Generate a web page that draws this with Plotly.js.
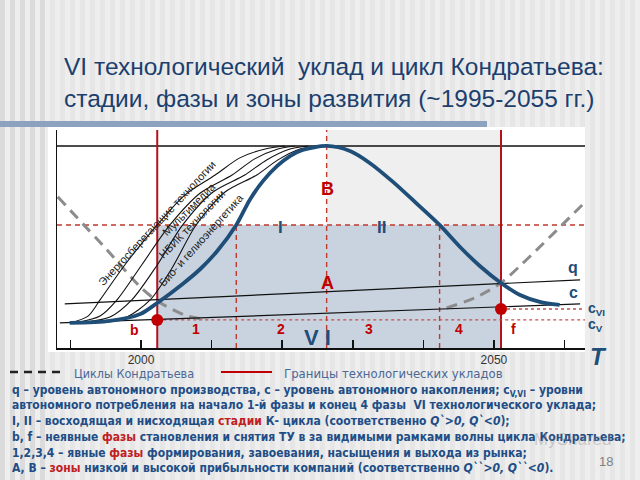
<!DOCTYPE html>
<html>
<head>
<meta charset="utf-8">
<script src="https://cdn.plot.ly/plotly-3.0.1.min.js"></script>
<style>html,body{margin:0;padding:0;background:#eeeeee;}#chart{width:640px;height:480px;}</style>
</head>
<body>
<div id="chart"></div>
<script>
// ---- data (years / relative level, 0 = axis, 100 = saturation line) ----
const mainYears = [1989.9, 1995.6, 1999.9, 2002.3, 2005.9, 2008.4, 2010.8, 2013.5, 2015.4, 2017.3, 2019.3, 2021.1, 2022.9, 2026.3, 2029.6, 2032.4, 2035.7, 2038.8, 2042.3, 2045.2, 2048.0, 2051.0, 2053.7, 2056.5, 2059.3];
const mainLevel = [12.4, 13.4, 16.8, 22.3, 31.7, 39.1, 48.0, 60.9, 73.3, 82.7, 90.1, 95.0, 98.0, 100, 97.5, 91.6, 82.2, 72.3, 60.9, 50.0, 40.6, 32.2, 26.2, 22.8, 21.3];

const techNames = ["Энергосберегающие технологии", "Мультимедиа", "НБИК технологии", "Био- и гелиоэнергетика"];
const tech1Years = [1989.9, 1992.5, 1994.2, 1997.7, 2002.3, 2006.2, 2010.5, 2014.0, 2017.6, 2020.4];
const tech1Level = [12.4, 15.8, 23.8, 41.1, 60.9, 75.7, 85.6, 94.1, 98.5, 100];
const tech2Years = [1990.7, 1994.2, 1996.6, 2000.1, 2004.1, 2008.4, 2012.9, 2016.1, 2019.4, 2021.8];
const tech2Level = [12.4, 15.8, 23.8, 41.1, 60.9, 76.7, 85.6, 93.6, 98.5, 100];
const tech3Years = [1991.1, 1995.6, 1998.7, 2002.3, 2005.9, 2010.2, 2014.7, 2017.8, 2021.1, 2023.7];
const tech3Level = [12.4, 15.3, 23.8, 41.1, 60.9, 77.2, 85.6, 93.1, 98.5, 100];
const tech4Years = [1991.6, 1997.7, 2001.3, 2004.4, 2007.8, 2011.9, 2016.4, 2019.4, 2022.5, 2025.1];
const tech4Level = [12.4, 14.9, 23.8, 39.6, 60.9, 77.2, 85.6, 93.1, 98.5, 100];

const kondLeftYears = [1988.2, 1995.2, 1999.9, 2002.3, 2006.2, 2009.3];
const kondLeftLevel = [74.8, 48.5, 30.2, 23.3, 16.3, 13.9];
const kondRightYears = [2043.3, 2047.3, 2051.0, 2062.5];
const kondRightLevel = [19.8, 24.8, 32.2, 70.8];

const qYears = [1989.2, 2062.2];
const qLevel = [21.8, 33.7];
const cYears = [1988.5, 2062.2];
const cLevel = [12.4, 21.8];

const cVYears = [2002.3, 2062.9];
const cVLevel = [13.9, 13.9];
const cVIYears = [2051.0, 2062.9];
const cVILevel = [19.3, 19.3];

const dotYears = [2002.3, 2051.0];
const dotLevel = [13.9, 19.3];

const boundaryYears = [2002.3, 2051.0];   // границы технологических укладов
const phaseYears = [2013.5, 2042.3];      // границы фаз 1|2 и 3|4
const peakYear = 2026.3;
const stageLevel = 60.9;
const topLevel = 100;

const tickYears = [1990, 2000, 2010, 2020, 2030, 2040, 2050, 2060];
const tickLabels = ["", "2000", "", "", "", "", "2050", ""];

// ---- geometry helpers ----
const PL = 57, PR = 585, PT = 130, PB = 348;
const X0 = 1988.1, X1 = 2062.9, Y0 = 0, Y1 = 107.9;
const px = x => (x - PL) / (PR - PL);
const py = y => (PB - y) / (PB - PT);

const NAVY = '#1f4e79', RED = '#c00000', TXT = '#214d86';

const traces = [];
function line(x, y, lineStyle) {
  traces.push({type: 'scatter', mode: 'lines', x: x, y: y, line: lineStyle, hoverinfo: 'skip', showlegend: false});
}
line(cVYears, cVLevel, {color: '#c0504d', width: 1.4, dash: 'dot'});
line(cVIYears, cVILevel, {color: '#c0504d', width: 1.4, dash: 'dot'});
line(kondLeftYears, kondLeftLevel, {color: '#8c8c8c', width: 3, dash: '11px,7px', shape: 'spline', smoothing: 0.8});
line(kondRightYears, kondRightLevel, {color: '#8c8c8c', width: 3, dash: '11px,7px', shape: 'spline', smoothing: 0.6});
line(qYears, qLevel, {color: '#111', width: 1.2});
line(cYears, cLevel, {color: '#111', width: 1.2});
[[tech1Years, tech1Level], [tech2Years, tech2Level], [tech3Years, tech3Level], [tech4Years, tech4Level]].forEach(t => {
  line(t[0], t[1], {color: '#111', width: 1.1, shape: 'spline', smoothing: 0.8});
});
line(mainYears, mainLevel, {color: NAVY, width: 3.8, shape: 'spline', smoothing: 0.8});
traces.push({type: 'scatter', mode: 'markers', x: dotYears, y: dotLevel,
  marker: {color: RED, size: 12}, hoverinfo: 'skip', showlegend: false});

// ---- shapes ----
const shapes = [];
for (let sx = 0; sx < 640; sx += 10) {
  shapes.push({type: 'rect', xref: 'paper', yref: 'paper', layer: 'below',
    x0: px(sx), x1: px(sx + 5), y0: py(480), y1: py(0), line: {width: 0},
    fillcolor: sx < 45 ? 'rgba(0,0,0,0.08)' : 'rgba(0,0,0,0.03)'});
}
// title underline bar
shapes.push({type: 'rect', xref: 'paper', yref: 'paper', layer: 'below',
  x0: px(0), x1: px(487), y0: py(127), y1: py(121), line: {width: 0}, fillcolor: '#8da2be'});
// white chart panel
shapes.push({type: 'rect', xref: 'paper', yref: 'paper', layer: 'below',
  x0: px(48), x1: px(585), y0: py(352), y1: py(127), line: {width: 0}, fillcolor: '#ffffff'});
// zones
shapes.push({type: 'rect', xref: 'x', yref: 'y', layer: 'below',
  x0: boundaryYears[0], x1: boundaryYears[1], y0: 0, y1: stageLevel, line: {width: 0}, fillcolor: '#c9d3df'});
shapes.push({type: 'rect', xref: 'x', yref: 'y', layer: 'below',
  x0: peakYear, x1: boundaryYears[1], y0: stageLevel, y1: Y1, line: {width: 0}, fillcolor: '#efefef'});
// dashed red guides
const dashRed = {color: '#c0392b', width: 1.4, dash: '5px,4px'};
shapes.push({type: 'line', xref: 'x', yref: 'y', layer: 'below', x0: X0, x1: X1, y0: stageLevel, y1: stageLevel, line: dashRed});
phaseYears.forEach(v => shapes.push({type: 'line', xref: 'x', yref: 'y', layer: 'below', x0: v, x1: v, y0: 0, y1: stageLevel, line: dashRed}));
shapes.push({type: 'line', xref: 'x', yref: 'y', layer: 'below', x0: peakYear, x1: peakYear, y0: 0, y1: Y1, line: dashRed});
// saturation line
shapes.push({type: 'line', xref: 'x', yref: 'y', layer: 'below', x0: X0, x1: X1, y0: topLevel, y1: topLevel, line: {color: '#111', width: 1.5}});
// boundaries of technological orders
boundaryYears.forEach(v => shapes.push({type: 'line', xref: 'x', yref: 'y', layer: 'below', x0: v, x1: v, y0: 0, y1: Y1, line: {color: '#b3121b', width: 2}}));
// legend symbols
shapes.push({type: 'line', xref: 'paper', yref: 'paper', x0: px(10), x1: px(62), y0: py(372), y1: py(372), line: {color: '#222', width: 2.5, dash: '8px,6px'}});
shapes.push({type: 'line', xref: 'paper', yref: 'paper', x0: px(221), x1: px(272), y0: py(372), y1: py(372), line: {color: RED, width: 2}});

// ---- annotations ----
const ann = [];
function A(text, x, y, size, color, opts) {
  ann.push(Object.assign({xref: 'paper', yref: 'paper', x: px(x), y: py(y), text: text, showarrow: false,
    xanchor: 'center', yanchor: 'middle', font: {family: 'Liberation Sans, Arial, sans-serif', size: size, color: color}}, opts || {}));
}
// title
A('VI технологический  уклад и цикл Кондратьева:', 62, 66, 24.5, '#1c3f6e', {xanchor: 'left'});
A('стадии, фазы и зоны развития (~1995-2055 гг.)', 62, 98, 24.5, '#1c3f6e', {xanchor: 'left'});
// chart labels
A('<b>B</b>', 327, 189, 18, RED);
A('<b>A</b>', 327, 283, 18, RED);
A('<b>I</b>', 280, 227, 17, NAVY);
A('<b>II</b>', 381, 227, 17, NAVY);
A('<b>b</b>', 134, 330, 14, RED);
A('<b>1</b>', 196, 329, 14, RED);
A('<b>2</b>', 281, 329, 14, RED);
A('<b>3</b>', 369, 329, 14, RED);
A('<b>4</b>', 459, 329, 14, RED);
A('<b>f</b>', 513, 329, 14, RED);
A('<b>V I</b>', 317, 337, 22, NAVY);
A('<b>q</b>', 573, 267, 16, NAVY);
A('<b>c</b>', 573, 292, 16, NAVY);
A('<b>c<sub>VI</sub></b>', 586, 309, 14, NAVY, {xanchor: 'left'});
A('<b>c<sub>V</sub></b>', 586, 325, 14, NAVY, {xanchor: 'left'});
A('<b><i>T</i></b>', 598, 356, 24, NAVY);
// technology labels
A(techNames[0], 157, 223, 11, '#222', {textangle: -47});
A(techNames[1], 189, 209, 11, '#222', {textangle: -45});
A(techNames[2], 192, 224, 11, '#222', {textangle: -46});
A(techNames[3], 201, 240, 11, '#222', {textangle: -48});
// legend texts
const NF = 'Liberation Sans Narrow, DejaVu Sans Condensed, Liberation Sans, sans-serif';
A('Циклы Кондратьева', 72, 373, 12.5, '#4a6896', {xanchor: 'left', font: {family: NF, size: 12.5, color: '#4a6896'}});
A('Границы технологических укладов', 282, 373, 13, '#4a6896', {xanchor: 'left', font: {family: NF, size: 13, color: '#4a6896'}});
// explanation lines
const R = s => '<span style="color:#c0201e">' + s + '</span>';
const lines = [
  'q – уровень автономного производства, с – уровень автономного накопления; c<sub>V,VI</sub> – уровни',
  'автономного потребления на начало 1-й фазы и конец 4 фазы  VI технологического уклада;',
  'I, II – восходящая и нисходящая ' + R('стадии') + ' К- цикла (соответственно <i>Q`>0, Q`<0</i>);',
  'b, f – неявные ' + R('фазы') + ' становления и снятия ТУ в за видимыми рамками волны цикла Кондратьева;',
  '1,2,3,4 – явные ' + R('фазы') + ' формирования, завоевания, насыщения и выхода из рынка;',
  'A, B – ' + R('зоны') + ' низкой и высокой прибыльности компаний (соответственно <i>Q``>0, Q``<0</i>).'
];
const lineY = [391, 405, 421, 437, 453, 468];
lines.forEach((t, i) => A('<b>' + t + '</b>', 10, lineY[i], 12, TXT, {xanchor: 'left', font: {family: NF, size: 12, color: TXT}}));
A('MyShared', 572, 439, 17, 'rgba(130,130,130,0.35)');
A('18', 606, 461, 13, '#808080');

const layout = {
  width: 640, height: 480,
  margin: {l: PL, r: 640 - PR, t: PT, b: 480 - PB, pad: 0},
  paper_bgcolor: '#eeeeee', plot_bgcolor: 'rgba(0,0,0,0)',
  showlegend: false,
  xaxis: {range: [X0, X1], showgrid: false, zeroline: false, showline: true, linecolor: '#111', linewidth: 2,
    ticks: 'inside', ticklen: 8, tickwidth: 1.5, tickcolor: '#111', tickvals: tickYears, ticktext: tickLabels,
    ticklabelstandoff: 0,
    tickfont: {family: 'Liberation Sans, Arial, sans-serif', size: 12, color: '#333'}, fixedrange: true},
  yaxis: {range: [Y0, Y1], showgrid: false, zeroline: false, showline: true, linecolor: '#111', linewidth: 1.5,
    showticklabels: false, ticks: '', fixedrange: true},
  shapes: shapes,
  annotations: ann
};
Plotly.newPlot('chart', traces, layout, {staticPlot: true, displayModeBar: false});
</script>
</body>
</html>
